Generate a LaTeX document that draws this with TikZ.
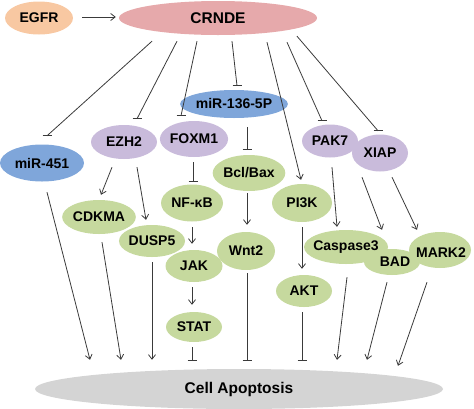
\documentclass[tikz,border=0pt]{standalone}
\usepackage{fontspec}
\setmainfont{Liberation Sans}
\usetikzlibrary{shapes.geometric,arrows.meta,calc}
\definecolor{cpeach}{HTML}{F8C8A2}
\definecolor{cpink}{HTML}{E6A9AB}
\definecolor{cblue}{HTML}{7FA6DA}
\definecolor{cpurple}{HTML}{C9BBDB}
\definecolor{cgreen}{HTML}{C6D99E}
\definecolor{cgray}{HTML}{D4D4D4}
\definecolor{cline}{HTML}{3A3A3A}
\tikzset{
  ell/.style={ellipse, inner sep=0pt, font=\fontsize{14}{14}\selectfont\bfseries, text=black},
  conn/.style={draw=cline, line width=0.8pt},
  arr/.style={conn, -{Straight Barb[length=4.5pt,width=7pt,line width=0.8pt]}},
}
\newcommand\inh[2]{\draw[conn] (#1) -- (#2); \draw[conn] ([xshift=-4.5pt]#2) -- ([xshift=4.5pt]#2);}
\begin{document}
\begin{tikzpicture}[x=1pt,y=-1pt]
\useasboundingbox (0,0) rectangle (474,408);
% nodes
\node[ell, fill=cpeach, minimum width=68pt, minimum height=33pt] (EGFR) at (39,18) {EGFR};
\node[ell, fill=cpink, minimum width=198pt, minimum height=34pt, font=\fontsize{15.5}{15.5}\selectfont\bfseries] (CRNDE) at (218,18) {CRNDE};
\node[ell, fill=cblue, minimum width=88pt, minimum height=28pt] (mir136) at (234,104) {miR-136-5P};
\node[ell, fill=cblue, minimum width=84pt, minimum height=37pt] (mir451) at (42,163) {miR-451};
\node[ell, fill=cpurple, minimum width=66pt, minimum height=34pt] (EZH2) at (124,142) {EZH2};
\node[ell, fill=cpurple, minimum width=66pt, minimum height=36pt] (FOXM1) at (194,139) {FOXM1};
\node[ell, fill=cgreen, minimum width=67pt, minimum height=36pt] (Bcl) at (249,173) {Bcl/Bax};
\node[ell, fill=cgreen, minimum width=62pt, minimum height=37pt] (NFkB) at (192,203) {NF-κB};
\node[ell, fill=cgreen, minimum width=66pt, minimum height=34pt] (CDKMA) at (99,217) {CDKMA};
\node[ell, fill=cgreen, minimum width=64pt, minimum height=32pt] (DUSP5) at (152,241) {DUSP5};
\node[ell, fill=cgreen, minimum width=57pt, minimum height=32pt] (JAK) at (194,266) {JAK};
\node[ell, fill=cgreen, minimum width=56pt, minimum height=30pt] (STAT) at (194,327) {STAT};
\node[ell, fill=cgreen, minimum width=58pt, minimum height=38pt] (Wnt2) at (246,251) {Wnt2};
\node[ell, fill=cgreen, minimum width=60pt, minimum height=38pt] (PI3K) at (302,203) {PI3K};
\node[ell, fill=cgreen, minimum width=56pt, minimum height=32pt] (AKT) at (304,291) {AKT};
\node[ell, fill=cpurple, minimum width=56pt, minimum height=33pt] (PAK7) at (330,141) {PAK7};
\node[ell, fill=cpurple, minimum width=56pt, minimum height=37pt] (XIAP) at (380,153) {XIAP};
\node[ell, fill=cgreen, minimum width=56pt, minimum height=26pt] (BAD) at (392,262) {};
\node[ell, fill=cgreen, minimum width=84pt, minimum height=34pt] (Casp) at (346,247) {};
\node[ell, fill=cgreen, minimum width=62pt, minimum height=36pt] (MARK2) at (440,250) {};
\node[font=\fontsize{14}{14}\selectfont\bfseries] at (Casp) {Caspase3};
\node[font=\fontsize{14}{14}\selectfont\bfseries] at (395,262) {BAD};
\node[font=\fontsize{14}{14}\selectfont\bfseries] at (441,253) {MARK2};
\node[ell, fill=cgray, minimum width=408pt, minimum height=40pt, font=\fontsize{15.5}{15.5}\selectfont\bfseries] (Apop) at (239,389) {Cell Apoptosis};
% coordinates
\coordinate (s1) at ($(CRNDE.south)+(-66,6)$);
\coordinate (e1) at ($(mir451.north)+(5,-8.5)$);
\coordinate (s2) at ($(CRNDE.south)+(-41,6)$);
\coordinate (e2) at ($(EZH2.north)+(13,-6)$);
\coordinate (s3) at ($(CRNDE.south)+(-21,6)$);
\coordinate (e3) at ($(FOXM1.north)+(-13,-5)$);
\coordinate (s4) at ($(CRNDE.south)+(14,6)$);
\coordinate (e4) at ($(mir136.north)+(3,-4)$);
\coordinate (s6) at ($(CRNDE.south)+(69,7)$);
\coordinate (e6) at ($(PAK7.north)+(-8,-3.5)$);
\coordinate (s7) at ($(CRNDE.south)+(79,1)$);
\coordinate (e7) at ($(XIAP.north)+(-2,-3.5)$);
\coordinate (s9) at ($(mir136.south)+(13,9)$);
\coordinate (e9) at ($(Bcl.north)+(-2,-5)$);
\coordinate (s11) at ($(Wnt2.south)+(1,3)$);
\coordinate (e11) at ($(Apop.north)+(8,-8)$);
\coordinate (s13) at ($(AKT.south)+(-2,5)$);
\coordinate (e13) at ($(Apop.north)+(63,-8)$);
\coordinate (s14) at ($(FOXM1.south)+(-1,5)$);
\coordinate (e14) at ($(NFkB.north)+(1,-2.5)$);
\coordinate (s17) at ($(STAT.south)+(-2,5)$);
\coordinate (e17) at ($(Apop.north)+(-47,-8)$);
% inhibition connectors
\inh{s1}{e1}
\inh{s2}{e2}
\inh{s3}{e3}
\inh{s4}{e4}
\inh{s6}{e6}
\inh{s7}{e7}
\inh{s9}{e9}
\inh{s11}{e11}
\inh{s13}{e13}
\inh{s14}{e14}
\inh{s17}{e17}
% activation connectors
\draw[arr] ($(EGFR.east)+(9,-1)$) -- ($(CRNDE.west)+(-3,-1)$);
\draw[arr] ($(CRNDE.south)+(49,7)$) -- ($(PI3K.north)+(-1,-4)$);
\draw[arr] ($(Bcl.south)+(-2,2)$) -- ($(Wnt2.north)+(1,-7)$);
\draw[arr] ($(PI3K.south)+(0,5)$) -- ($(AKT.north)+(-2,-6)$);
\draw[arr] ($(NFkB.south)+(0,5.5)$) -- ($(JAK.north)+(-2,-6)$);
\draw[arr] ($(JAK.south)+(-2,5)$) -- ($(STAT.north)+(-2,-7)$);
\draw[arr] ($(EZH2.south)+(-12,8)$) -- ($(CDKMA.north)+(2,-5)$);
\draw[arr] ($(EZH2.south)+(13,8)$) -- ($(DUSP5.north)+(-6,-5)$);
\draw[arr] ($(mir451.south)+(5,10.5)$) -- ($(Apop.north)+(-149,-9)$);
\draw[arr] ($(CDKMA.south)+(3,8)$) -- ($(Apop.north)+(-118,-9)$);
\draw[arr] ($(DUSP5.south)+(0,5)$) -- ($(Apop.north)+(-87,-9)$);
\draw[arr] ($(PAK7.south)+(2,9.5)$) -- ($(Casp.north)+(-9,-3)$);
\draw[arr] ($(XIAP.south)+(-18,5.5)$) -- ($(BAD.north)+(-10,-19)$);
\draw[arr] ($(XIAP.south)+(12,5.5)$) -- ($(MARK2.north)+(-23,-2)$);
\draw[arr] ($(Casp.south)+(1,13)$) -- ($(Apop.north)+(98,-9)$);
\draw[arr] ($(BAD.south)+(-5,7)$) -- ($(Apop.north)+(128,-9)$);
\draw[arr] ($(MARK2.south)+(-13,14)$) -- ($(Apop.north)+(159,-3)$);
\end{tikzpicture}
\end{document}
